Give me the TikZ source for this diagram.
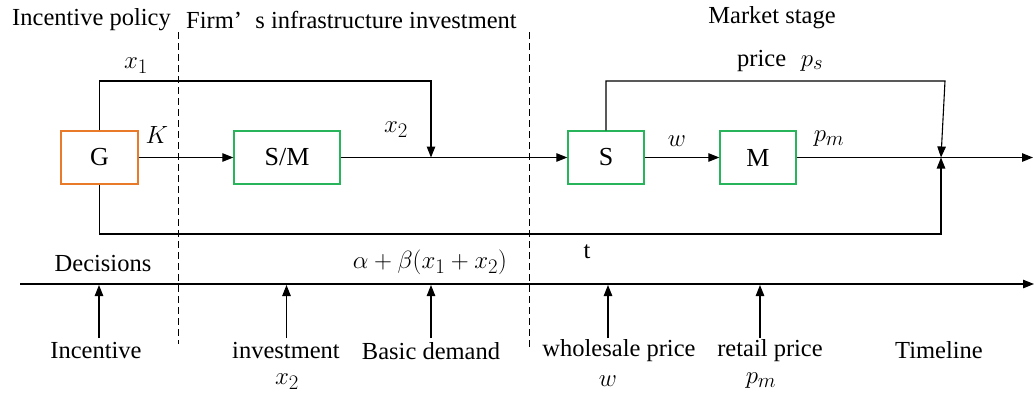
\documentclass[tikz,border=0pt]{standalone}
\usepackage{fontspec}
\setmainfont{Liberation Serif}
\usetikzlibrary{arrows.meta}
\definecolor{gorange}{RGB}{232,122,42}
\definecolor{ggreen}{RGB}{40,180,90}
\begin{document}
\begin{tikzpicture}[x=1pt,y=-1pt,
  every node/.style={font=\fontsize{24.5}{28}\selectfont, inner sep=0pt},
  box/.style={draw, line width=1.3pt, minimum height=53pt, font=\fontsize{26}{30}\selectfont},
  ln/.style={line width=1.1pt},
  arr/.style={ln, -{Triangle[length=11pt,width=8.5pt]}},
  dsh/.style={line width=1pt, dash pattern=on 7pt off 4pt},
  lbl/.style={font=\fontsize{24.5}{28}\selectfont},
  mth/.style={font=\fontsize{29}{32}\selectfont}]
\useasboundingbox (0,0) rectangle (1034,394);
% boxes
\node[box, draw=gorange, minimum width=77pt] (G) at (99.5,157.5) {G};
\node[box, draw=ggreen, minimum width=106pt] (SM) at (287,157.5) {S/M};
\node[box, draw=ggreen, minimum width=76pt] (S) at (606,157.5) {S};
\node[box, draw=ggreen, minimum width=76pt] (M) at (758,157.5) {M};
% coordinates
\coordinate (j1) at (431,157.5);
\coordinate (t1) at (431,81);
\coordinate (j2) at (941,157.5);
\coordinate (t2) at (945,81);
\coordinate (b2) at (941,234);
\coordinate (out) at (1033,157.5);
% dashed separators
\coordinate (d1a) at (178,32); \coordinate (d1b) at (178,344);
\coordinate (d2a) at (529,32); \coordinate (d2b) at (529,348);
\draw[dsh] (d1a) -- (d1b);
\draw[dsh] (d2a) -- (d2b);
% connectors
\draw[arr] (G.east) -- (SM.west);
\draw[arr] (SM.east) -- (S.west);
\draw[arr] (S.east) -- (M.west);
\draw[arr] (M.east) -- (out);
\draw[arr] (G.north) |- (t1) -- (j1);
\draw[arr] (S.north) |- (t2) -- (j2);
\draw[arr] (G.south) |- (b2) -- (j2);
% timeline
\coordinate (tl0) at (20,284);
\coordinate (tl1) at (1034,284);
\draw[arr] (tl0) -- (tl1);
\foreach \n/\x in {a/99,b/286.5,c/431,d/608,e/760}{
  \coordinate (\n s) at (\x,338);
  \coordinate (\n e) at (\x,285);
  \draw[arr] (\n s) -- (\n e);
}
% top labels
\node[lbl] (tp1) at (91.5,20) {Incentive policy};
\node[lbl, anchor=west] (tp2) at (186,20) {Firm’\hspace{0.55em}s infrastructure investment};
\node[lbl] (tp3) at (772,18) {Market stage};
\node[lbl, anchor=base west] (tp4) at (737,66) {price\hspace{0.6em}\fontsize{29}{32}\selectfont$p_s$};
% connector labels
\node[mth] (lx1) at (136,66) {$x_1$};
\node[mth] (lK) at (157,135) {$K$};
\node[mth] (lx2) at (396,130) {$x_2$};
\node[mth] (lw) at (677,141) {$w$};
\node[mth] (lpm) at (829,139) {$p_m$};
\node[lbl] (lt) at (587,252) {t};
\node[lbl] (ldec) at (103,264) {Decisions};
\node[mth] (lab) at (430,262) {$\alpha+\beta(x_1+x_2)$};
% bottom labels
\node[lbl] (b1) at (96,351) {Incentive};
\node[lbl] (b2l) at (286,351) {investment};
\node[mth] (b2m) at (287,382) {$x_2$};
\node[lbl] (b3) at (431,351) {Basic demand};
\node[lbl] (b4) at (619,351) {wholesale price};
\node[mth] (b4m) at (608,381) {$w$};
\node[lbl] (b5) at (770,351) {retail price};
\node[mth] (b5m) at (761,381) {$p_m$};
\node[lbl] (b6) at (939,350) {Timeline};
\end{tikzpicture}
\end{document}
